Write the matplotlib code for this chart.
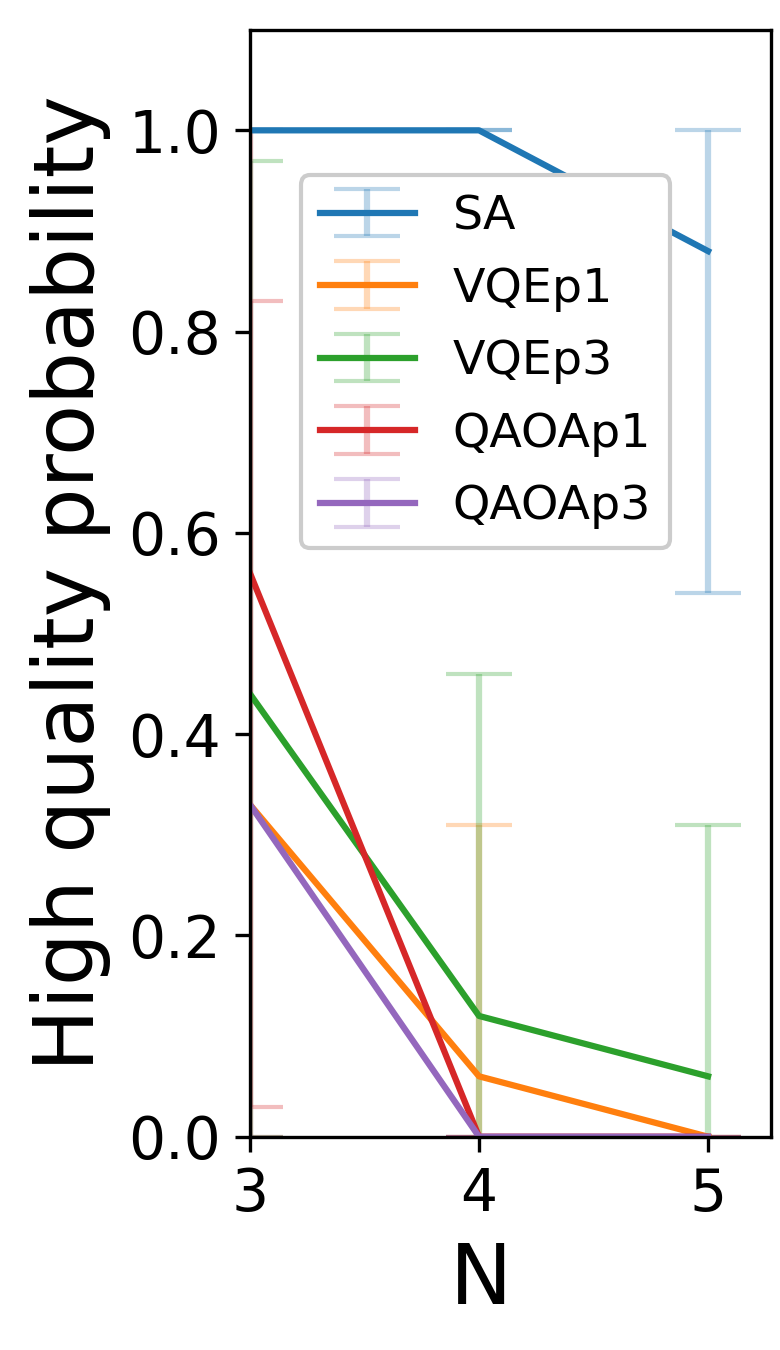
import numpy as np
from matplotlib import pyplot as plt

plt.rcParams['font.size'] = 14

N = [3, 4, 5]
labels = ['SA', 'VQEp1', 'VQEp3', 'QAOAp1', 'QAOAp3']

# mean, lower bound, upper bound per method
sa = [1.0, 1.0, 0.88]
sa_lo = [1.0, 1.0, 0.54]
sa_hi = [1.0, 1.0, 1.0]

vqe1 = [0.33, 0.06, 0.0]
vqe1_lo = [0.0, 0.0, 0.0]
vqe1_hi = [1.0, 0.31, 0.0]

vqe3 = [0.44, 0.12, 0.06]
vqe3_lo = [0.0, 0.0, 0.0]
vqe3_hi = [0.97, 0.46, 0.31]

qaoa1 = [0.56, 0.0, 0.0]
qaoa1_lo = [0.03, 0.0, 0.0]
qaoa1_hi = [0.83, 0.0, 0.0]

qaoa3 = [0.33, 0.0, 0.0]
qaoa3_lo = [0.0, 0.0, 0.0]
qaoa3_hi = [1.0, 0.0, 0.0]

series = [(sa, sa_lo, sa_hi), (vqe1, vqe1_lo, vqe1_hi), (vqe3, vqe3_lo, vqe3_hi),
          (qaoa1, qaoa1_lo, qaoa1_hi), (qaoa3, qaoa3_lo, qaoa3_hi)]

fig = plt.figure(figsize=[2.6, 4.5], dpi=300)
ax = fig.add_axes([0.3205, 0.158, 0.668, 0.82])

for (y, lo, hi), lab in zip(series, labels):
    y = np.array(y)
    yerr = [y - np.array(lo), np.array(hi) - y]
    eb = ax.errorbar(N, y, yerr=yerr, capsize=8, label=lab)
    for c in eb[1]:
        c.set_alpha(0.3)
    for b in eb[2]:
        b.set_alpha(0.3)

ax.set_xlim(3, 5.275)
ax.set_ylim(0, 1.1)
ax.set_xticks([3, 4, 5])
ax.set_xlabel('N', fontsize=20)
ax.xaxis.label.set_x(0.443)
ax.set_ylabel('High quality probability', fontsize=20)
ax.legend(loc='center', bbox_to_anchor=(0.452, 0.70), fontsize=11.4,
          labelspacing=0.58, framealpha=1)

plt.savefig('out.png')
